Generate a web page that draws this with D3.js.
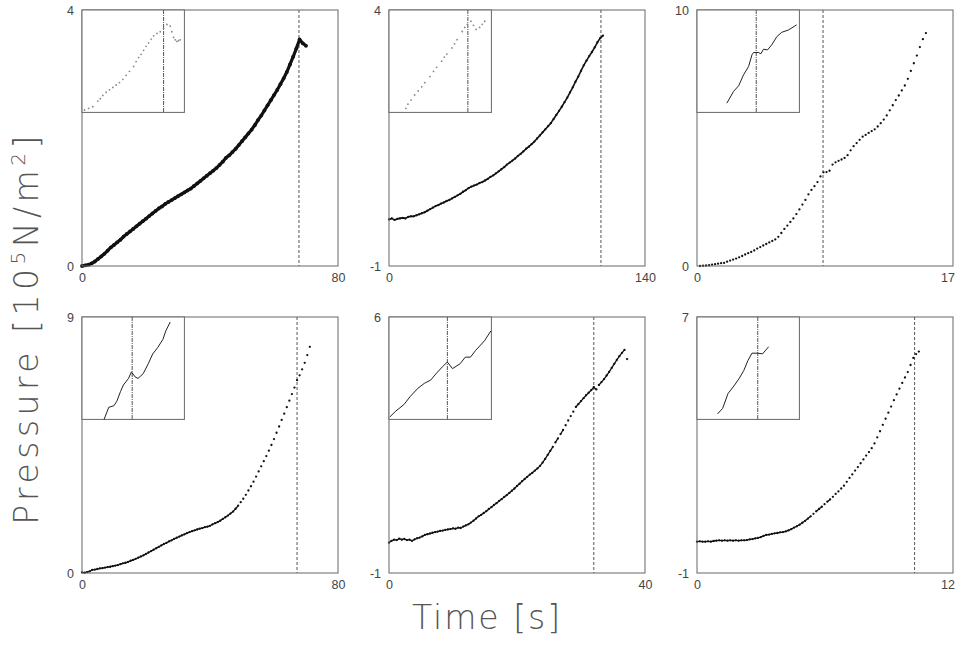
<!DOCTYPE html>
<html>
<head>
<meta charset="utf-8">
<script src="https://cdn.jsdelivr.net/npm/d3@7"></script>
<style>
  html, body { margin: 0; padding: 0; background: #fff; }
  svg { display: block; }
</style>
</head>
<body>
<svg id="chart" width="956" height="646"></svg>
<script>
// Pressure history of six runs; each panel has its own time and pressure range.
const xMax = [80, 140, 17, 80, 40, 12];
const yMin = [0, -1, 0, 0, -1, -1];
const yMax = [4, 4, 10, 9, 6, 7];
const xTickLabels = [["0", "80"], ["0", "140"], ["0", "17"], ["0", "80"], ["0", "40"], ["0", "12"]];
const yTickLabels = [["0", "4"], ["-1", "4"], ["0", "10"], ["0", "9"], ["-1", "6"], ["-1", "7"]];

// Sampling of each record: first sample time and interval [s]
const tStart = [0, 0, 0.2, 0, 0, 0];
const tStep = [1, 1.5, 0.2, 0.8, 0.4, 0.13];

// Time of the event marked by the dashed line [s]
const eventTime = [67.8, 115.9, 8.37, 67.2, 32.0, 10.2];

// Pressure samples [10^5 N/m^2]
const pressure1 = [0.00, 0.01, 0.02, 0.04, 0.07, 0.11, 0.15, 0.19, 0.24, 0.29,
  0.33, 0.37, 0.41, 0.46, 0.50, 0.54, 0.58, 0.62, 0.66, 0.70,
  0.74, 0.78, 0.82, 0.86, 0.90, 0.93, 0.97, 1.00, 1.03, 1.06,
  1.09, 1.12, 1.15, 1.18, 1.21, 1.25, 1.29, 1.33, 1.37, 1.41,
  1.45, 1.49, 1.53, 1.58, 1.63, 1.69, 1.73, 1.78, 1.83, 1.89,
  1.95, 2.01, 2.07, 2.13, 2.20, 2.28, 2.35, 2.43, 2.51, 2.59,
  2.67, 2.75, 2.84, 2.93, 3.03, 3.15, 3.27, 3.40, 3.54, 3.48, 3.44];

const pressure2 = [-0.09, -0.07, -0.10, -0.08, -0.07, -0.06, -0.07, -0.04, -0.03, -0.03,
  -0.01, 0.01, 0.03, 0.05, 0.08, 0.11, 0.14, 0.17, 0.19, 0.22,
  0.24, 0.27, 0.29, 0.32, 0.35, 0.38, 0.41, 0.45, 0.48, 0.52,
  0.55, 0.57, 0.59, 0.62, 0.64, 0.67, 0.70, 0.74, 0.77, 0.81,
  0.85, 0.89, 0.93, 0.98, 1.02, 1.06, 1.10, 1.15, 1.19, 1.24,
  1.29, 1.33, 1.38, 1.43, 1.49, 1.55, 1.61, 1.67, 1.73, 1.79,
  1.87, 1.95, 2.03, 2.11, 2.20, 2.29, 2.39, 2.49, 2.60, 2.70,
  2.81, 2.92, 3.01, 3.10, 3.18, 3.27, 3.37, 3.45, 3.50];

const pressure3 = [0.00, 0.01, 0.02, 0.03, 0.05, 0.07, 0.09, 0.11, 0.12, 0.17,
  0.21, 0.25, 0.29, 0.34, 0.39, 0.45, 0.50, 0.55, 0.61, 0.68,
  0.74, 0.80, 0.86, 0.92, 0.98, 1.04, 1.14, 1.29, 1.45, 1.58,
  1.72, 1.86, 2.03, 2.21, 2.40, 2.58, 2.80, 2.97, 3.12, 3.28,
  3.50, 3.66, 3.67, 3.72, 3.96, 4.05, 4.11, 4.16, 4.22, 4.33,
  4.52, 4.68, 4.80, 4.93, 5.05, 5.12, 5.20, 5.27, 5.34, 5.45,
  5.58, 5.72, 5.88, 6.08, 6.28, 6.48, 6.66, 6.86, 7.05, 7.31,
  7.62, 7.92, 8.22, 8.55, 8.86, 9.10];

const pressure4 = [0.02, 0.01, 0.03, 0.06, 0.11, 0.12, 0.14, 0.16, 0.17, 0.19,
  0.21, 0.22, 0.24, 0.26, 0.28, 0.31, 0.34, 0.36, 0.39, 0.43,
  0.46, 0.50, 0.54, 0.58, 0.62, 0.67, 0.72, 0.77, 0.82, 0.87,
  0.92, 0.97, 1.02, 1.06, 1.11, 1.15, 1.20, 1.24, 1.28, 1.32,
  1.36, 1.40, 1.44, 1.47, 1.50, 1.53, 1.56, 1.58, 1.61, 1.63,
  1.66, 1.71, 1.75, 1.79, 1.84, 1.90, 1.96, 2.02, 2.09, 2.16,
  2.26, 2.37, 2.49, 2.61, 2.75, 2.90, 3.05, 3.21, 3.39, 3.57,
  3.75, 3.93, 4.11, 4.30, 4.50, 4.71, 4.93, 5.15, 5.38, 5.60,
  5.83, 6.06, 6.29, 6.52, 6.78, 6.95, 7.16, 7.39, 7.66, 7.95];

const pressure5 = [-0.17, -0.12, -0.09, -0.10, -0.06, -0.09, -0.07, -0.10, -0.09, -0.12,
  -0.08, -0.05, -0.03, 0.00, 0.04, 0.06, 0.08, 0.10, 0.12, 0.13,
  0.15, 0.16, 0.18, 0.19, 0.20, 0.22, 0.21, 0.24, 0.23, 0.27,
  0.30, 0.33, 0.38, 0.43, 0.49, 0.55, 0.59, 0.64, 0.69, 0.75,
  0.80, 0.86, 0.91, 0.97, 1.02, 1.08, 1.13, 1.19, 1.25, 1.31,
  1.38, 1.44, 1.51, 1.57, 1.63, 1.69, 1.74, 1.80, 1.86, 1.93,
  2.02, 2.12, 2.23, 2.34, 2.45, 2.57, 2.68, 2.80, 2.91, 3.04,
  3.17, 3.29, 3.41, 3.54, 3.62, 3.70, 3.78, 3.86, 3.93, 4.00,
  4.08, 4.02, 4.14, 4.22, 4.30, 4.40, 4.50, 4.61, 4.72, 4.83,
  4.93, 5.02, 5.10, 4.85];

const pressure6 = [-0.02, -0.01, -0.02, -0.02, -0.01, -0.02, 0.00, 0.01, 0.02, 0.01,
  0.02, 0.01, 0.02, 0.01, 0.02, 0.01, 0.02, 0.02, 0.03, 0.05,
  0.06, 0.08, 0.10, 0.12, 0.16, 0.19, 0.20, 0.22, 0.24, 0.25,
  0.27, 0.28, 0.30, 0.33, 0.37, 0.42, 0.46, 0.51, 0.57, 0.63,
  0.70, 0.77, 0.85, 0.93, 1.00, 1.07, 1.15, 1.23, 1.30, 1.38,
  1.47, 1.55, 1.64, 1.73, 1.85, 1.97, 2.08, 2.20, 2.31, 2.43,
  2.55, 2.67, 2.78, 2.90, 3.05, 3.24, 3.43, 3.63, 3.82, 4.01,
  4.20, 4.40, 4.58, 4.76, 4.94, 5.11, 5.28, 5.50, 5.72, 5.84, 5.92];

// Close-up windows around the event [time range], [pressure range]
const insetTimeWindow = [[58, 70.3], [100.5, 120.5], [4.9, 10.9], [60.34, 74.34], [27.44, 35.44], [8.42, 11.42]];
const insetPressureWindow = [[2.45, 3.72], [2.61, 3.61], [1.31, 5.31], [5.0, 8.9], [2.67, 5.17], [3.86, 6.86]];

// Close-up records [time, pressure]
const inset1 = [[58.3, 2.48], [58.8, 2.50], [59.3, 2.52], [59.9, 2.59], [60.2, 2.62], [60.5, 2.66], [60.9, 2.70],
  [61.3, 2.73], [61.7, 2.76], [62.1, 2.79], [62.5, 2.82], [62.9, 2.86], [63.3, 2.91], [63.7, 2.96], [64.2, 3.02],
  [64.5, 3.08], [64.8, 3.13], [65.1, 3.17], [65.4, 3.22], [65.7, 3.27], [66.0, 3.31], [66.3, 3.36], [66.6, 3.40],
  [67.0, 3.43], [67.4, 3.45], [67.8, 3.49], [68.2, 3.54], [68.6, 3.52], [68.8, 3.45], [69.0, 3.38], [69.2, 3.35],
  [69.4, 3.33], [69.6, 3.34], [69.8, 3.35]];
const inset2 = [[103.8, 2.65], [104.2, 2.69], [104.8, 2.73], [105.5, 2.78], [106.2, 2.82], [106.9, 2.86], [107.5, 2.90],
  [108.5, 2.96], [109.2, 3.01], [109.8, 3.05], [110.8, 3.11], [111.3, 3.15], [111.8, 3.18], [112.8, 3.24],
  [113.3, 3.28], [113.8, 3.32], [114.8, 3.40], [115.3, 3.44], [115.8, 3.47], [116.5, 3.50], [117.0, 3.46],
  [117.5, 3.42], [118.2, 3.44], [118.7, 3.47], [119.2, 3.50]];
const inset3 = [[6.65, 1.67], [7.04, 2.13], [7.34, 2.35], [7.63, 2.78], [7.92, 3.10], [8.12, 3.56], [8.21, 3.65],
  [8.50, 3.65], [8.64, 3.60], [8.80, 3.78], [9.03, 3.75], [9.28, 3.95], [9.58, 4.27], [9.87, 4.44],
  [10.26, 4.53], [10.74, 4.73]];
const inset4 = [[63.36, 5.0], [64.0, 5.46], [64.7, 5.52], [65.1, 5.69], [65.6, 6.06], [66.0, 6.31], [66.7, 6.56],
  [67.1, 6.81], [67.6, 6.62], [68.0, 6.56], [68.7, 6.74], [69.4, 7.12], [70.0, 7.49], [70.7, 7.74],
  [71.4, 8.05], [71.8, 8.37], [72.4, 8.71]];
const inset5 = [[27.5, 2.73], [27.96, 2.87], [28.6, 3.03], [29.1, 3.23], [29.7, 3.43], [30.2, 3.55], [30.7, 3.63],
  [31.1, 3.78], [31.6, 3.95], [32.0, 4.07], [32.4, 3.91], [33.0, 4.03], [33.4, 4.19], [33.8, 4.19],
  [34.2, 4.35], [34.9, 4.59], [35.4, 4.83]];
const inset6 = [[9.02, 4.02], [9.17, 4.18], [9.33, 4.62], [9.48, 4.81], [9.65, 5.05], [9.79, 5.29], [9.91, 5.58],
  [10.03, 5.80], [10.2, 5.80], [10.34, 5.78], [10.52, 5.99]];

const pressures = [pressure1, pressure2, pressure3, pressure4, pressure5, pressure6];
const insets = [inset1, inset2, inset3, inset4, inset5, inset6];

// ---- layout ----
const colLeft = [82, 389, 697];
const rowTop = [10, 317];
const size = 256;
const insetFrac = 0.4;
const pageWidth = 956;
// where samples lie closer than this (px), neighbours are joined into a trace
const joinDistance = [0, 0, 0, 4.2, 5.0, 3.6];

const svg = d3.select("#chart");

pressures.forEach((pVals, k) => {
  const left = colLeft[k % 3], top = rowTop[Math.floor(k / 3)];
  const x = d3.scaleLinear().domain([0, xMax[k]]).range([left, left + size]);
  const y = d3.scaleLinear().domain([yMin[k], yMax[k]]).range([top + size, top]);
  const series = pVals.map((p, i) => [tStart[k] + i * tStep[k], p]);

  const g = svg.append("g");

  // axes: labels only at both ends of each range
  g.append("g")
    .attr("transform", `translate(0,${top + size})`)
    .call(d3.axisBottom(x).tickValues([0, xMax[k]]).tickSize(0).tickPadding(7)
      .tickFormat((d, i) => xTickLabels[k][i]))
    .call(a => a.select(".domain").remove());
  g.append("g")
    .attr("transform", `translate(${left},0)`)
    .call(d3.axisLeft(y).tickValues([yMin[k], yMax[k]]).tickSize(0).tickPadding(8)
      .tickFormat((d, i) => yTickLabels[k][i]))
    .call(a => a.select(".domain").remove());
  g.selectAll(".tick text")
    .attr("font-family", "'Liberation Sans', Arial, sans-serif")
    .attr("font-size", 12.5)
    .attr("fill", "#444");
  // keep end labels that reach the page edge inside it
  g.selectAll(".tick text").each(function () {
    const bb = this.getBBox();
    const tx = this.parentNode.transform.baseVal.consolidate();
    const ox = tx ? tx.matrix.e : 0;
    if (ox + bb.x + bb.width > pageWidth - 1) {
      d3.select(this).attr("text-anchor", "end").attr("x", pageWidth - 1 - ox);
    }
  });

  // event marker
  g.append("line")
    .attr("x1", x(eventTime[k])).attr("x2", x(eventTime[k]))
    .attr("y1", top).attr("y2", top + size)
    .attr("stroke", "#555").attr("stroke-width", 1)
    .attr("stroke-dasharray", "3,2");

  // record
  if (k === 0 || k === 1) {
    g.append("path")
      .datum(series)
      .attr("fill", "none")
      .attr("stroke", "#111")
      .attr("stroke-width", k === 0 ? 3.2 : 1.6)
      .attr("stroke-linejoin", "round")
      .attr("d", d3.line().x(d => x(d[0])).y(d => y(d[1])));
  } else if (joinDistance[k] > 0) {
    const segs = d3.pairs(series).filter(([a, b]) =>
      Math.hypot(x(b[0]) - x(a[0]), y(b[1]) - y(a[1])) < joinDistance[k]);
    g.append("g").selectAll("line")
      .data(segs)
      .join("line")
      .attr("x1", d => x(d[0][0])).attr("y1", d => y(d[0][1]))
      .attr("x2", d => x(d[1][0])).attr("y2", d => y(d[1][1]))
      .attr("stroke", "#111").attr("stroke-width", 1.3)
      .attr("stroke-linecap", "round");
  }
  g.append("g").selectAll("circle")
    .data(series)
    .join("circle")
    .attr("cx", d => x(d[0]))
    .attr("cy", d => y(d[1]))
    .attr("r", k === 0 ? 1.9 : 1.15)
    .attr("fill", "#111");

  // frame
  g.append("rect")
    .attr("x", left).attr("y", top).attr("width", size).attr("height", size)
    .attr("fill", "none").attr("stroke", "#666").attr("stroke-width", 1);

  // close-up box in the top-left corner
  const iw = size * insetFrac;
  const ix = d3.scaleLinear().domain(insetTimeWindow[k]).range([left, left + iw]);
  const iy = d3.scaleLinear().domain(insetPressureWindow[k]).range([top + iw, top]);
  const ig = g.append("g");
  ig.append("rect")
    .attr("x", left).attr("y", top).attr("width", iw).attr("height", iw)
    .attr("fill", "#fff").attr("stroke", "#666").attr("stroke-width", 1);
  ig.append("line")
    .attr("x1", ix(eventTime[k])).attr("x2", ix(eventTime[k]))
    .attr("y1", top).attr("y2", top + iw)
    .attr("stroke", "#555").attr("stroke-width", 1)
    .attr("stroke-dasharray", "4,1,1,1");
  if (k < 2) {
    ig.append("g").selectAll("circle")
      .data(insets[k])
      .join("circle")
      .attr("cx", d => ix(d[0]))
      .attr("cy", d => iy(d[1]))
      .attr("r", 0.9)
      .attr("fill", "#888");
  } else {
    ig.append("path")
      .datum(insets[k])
      .attr("fill", "none")
      .attr("stroke", "#222")
      .attr("stroke-width", 1)
      .attr("d", d3.line().x(d => ix(d[0])).y(d => iy(d[1])));
  }
});

// shared axis titles
const titleFont = "'DejaVu Sans', 'Liberation Sans', sans-serif";
svg.append("text")
  .attr("x", 487).attr("y", 629)
  .attr("text-anchor", "middle")
  .attr("font-family", titleFont)
  .attr("font-weight", 200)
  .attr("font-size", 33)
  .attr("letter-spacing", 2)
  .attr("fill", "#555")
  .text("Time [s]");

const yTitle = svg.append("text")
  .attr("transform", "translate(38,328) rotate(-90)")
  .attr("text-anchor", "middle")
  .attr("font-family", titleFont)
  .attr("font-weight", 200)
  .attr("font-size", 33)
  .attr("letter-spacing", 4.5)
  .attr("fill", "#555");
yTitle.append("tspan").text("Pressure [10");
yTitle.append("tspan").attr("dy", -13).attr("font-size", 20).text("5");
yTitle.append("tspan").attr("dy", 13).text("N/m");
yTitle.append("tspan").attr("dy", -13).attr("font-size", 20).text("2");
yTitle.append("tspan").attr("dy", 13).text("]");
</script>
</body>
</html>
